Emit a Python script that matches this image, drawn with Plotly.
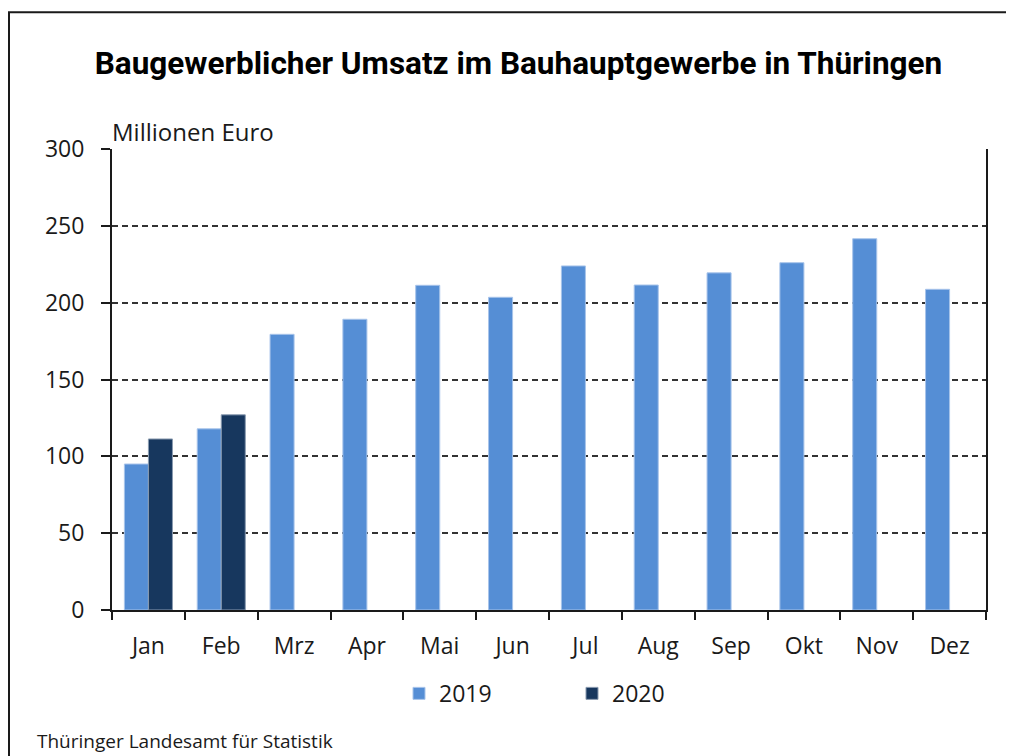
import plotly.graph_objects as go

months = ["Jan", "Feb", "Mrz", "Apr", "Mai", "Jun", "Jul", "Aug", "Sep", "Okt", "Nov", "Dez"]
values_2019 = [95.0, 117.9, 179.4, 189.2, 211.3, 203.5, 223.9, 211.5, 219.4, 226.0, 241.6, 208.7]
months_2020 = ["Jan", "Feb"]
values_2020 = [111.3, 127.0]
y_ticks = [0, 50, 100, 150, 200, 250, 300]

# page has an 8px body margin: shrink the figure and work in screen pixels
O = 8
W, H = 1014 - O, 756 - O
L_scr, T_scr, axis_scr, right_scr = 112, 149, 610.5, 986
L, T = L_scr - O, T_scr - O
R, B = 1014 - right_scr, 756 - axis_scr
pw, ph = right_scr - L_scr, axis_scr - T_scr

def px_x(x):
    return (x - L_scr) / pw

def px_y(y):
    return (axis_scr - y) / ph

FONT = "Open Sans"

fig = go.Figure()
fig.add_trace(go.Bar(
    name="2019", x=months, y=values_2019,
    marker=dict(color="#558ED5", line=dict(color="#a8c4ea", width=1)),
))
fig.add_trace(go.Bar(
    name="2020", x=months_2020, y=values_2020,
    marker=dict(color="#17375E", line=dict(color="#8a9bb0", width=1)),
))

fig.update_layout(
    width=W, height=H,
    margin=dict(l=L, r=R, t=T, b=B),
    paper_bgcolor="white", plot_bgcolor="white",
    barmode="group", bargap=0.34, bargroupgap=0,
    font=dict(family=FONT, size=23, color="#1a1a1a"),
    title=dict(
        text="<b>Baugewerblicher Umsatz im Bauhauptgewerbe in Thüringen</b>",
        x=(518.5 - O) / W, xref="container", xanchor="center",
        y=1 - (63 - O) / H, yref="container", yanchor="middle",
        font=dict(family="Roboto", size=31.5, color="#000000"),
    ),
    showlegend=True,
    legend=dict(
        orientation="h", x=px_x(399), xanchor="left",
        y=px_y(694), yanchor="middle",
        font=dict(family=FONT, size=23, color="#1a1a1a"),
        entrywidth=128, entrywidthmode="pixels",
        traceorder="normal",
    ),
    xaxis=dict(
        type="category", categoryorder="array", categoryarray=months,
        showline=True, linecolor="#1a1a1a", linewidth=2,
        ticks="outside", tickson="boundaries", ticklen=8, tickwidth=1.5, tickcolor="#1a1a1a",
        showgrid=False, ticklabelstandoff=14,
        tickfont=dict(family=FONT, size=23, color="#1a1a1a"),
    ),
    yaxis=dict(
        range=[0, 300], tickvals=y_ticks,
        showline=True, linecolor="#1a1a1a", linewidth=2, mirror=True,
        ticks="outside", ticklen=9, tickwidth=1.5, tickcolor="#1a1a1a",
        showgrid=True, gridcolor="#333333", gridwidth=1.5, griddash="6px,4px",
        zeroline=False, ticklabelstandoff=12,
        tickfont=dict(family=FONT, size=23, color="#1a1a1a"),
    ),
)

fig.add_annotation(
    text="Millionen Euro", xref="paper", yref="paper",
    x=px_x(110), y=px_y(131), xanchor="left", yanchor="middle",
    showarrow=False, font=dict(family=FONT, size=24, color="#1a1a1a"),
)
fig.add_annotation(
    text="Thüringer Landesamt für Statistik", xref="paper", yref="paper",
    x=px_x(35), y=px_y(742), xanchor="left", yanchor="middle",
    showarrow=False, font=dict(family=FONT, size=19, color="#1a1a1a"),
)
fig.add_shape(
    type="rect", xref="paper", yref="paper",
    x0=px_x(9), x1=px_x(1100), y0=px_y(12), y1=px_y(800),
    line=dict(color="#1a1a1a", width=2), fillcolor="rgba(0,0,0,0)", layer="below",
)

fig.write_html("out.html")
